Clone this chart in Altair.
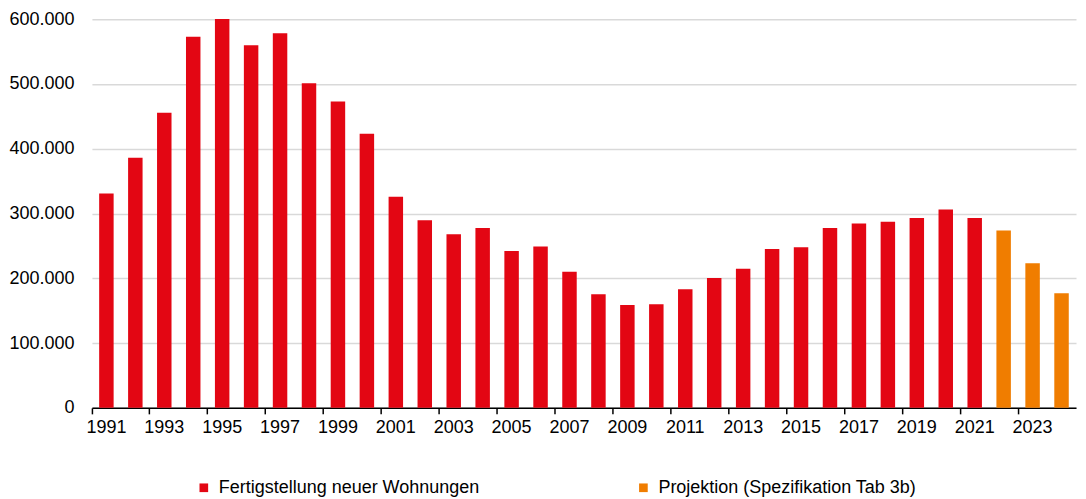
import altair as alt
import pandas as pd

years = list(range(1991, 2025))
values = [331000, 386000, 455500, 573000, 600500, 560000, 578500, 501000, 473000, 423000,
          326000, 289500, 268000, 277600, 242200, 249300, 210300, 175300, 158900, 159900,
          183000, 200500, 214900, 245200, 247800, 277600, 284800, 287400, 293000, 306400,
          293000, 274000, 223100, 176900]
series_names = ["Fertigstellung neuer Wohnungen", "Projektion (Spezifikation Tab 3b)"]
series = [series_names[0]] * 31 + [series_names[1]] * 3
colors = ["#E30613", "#F07D00"]
x_labels = list(range(1991, 2025, 2))
y_ticks = [0, 100000, 200000, 300000, 400000, 500000, 600000]

df = pd.DataFrame({"Jahr": years, "Wert": values, "Reihe": series})

FONT = "Liberation Sans"

chart = alt.Chart(df).mark_bar(width=alt.RelativeBandSize(0.5)).encode(
    x=alt.X("Jahr:O", title=None,
            scale=alt.Scale(paddingInner=0, paddingOuter=0),
            axis=alt.Axis(values=x_labels, labelAngle=0, bandPosition=0,
                          ticks=True, tickSize=6, tickWidth=1.5, tickColor="black",
                          domainColor="black", domainWidth=1.5,
                          labelFont=FONT, labelFontSize=18, labelColor="black",
                          labelPadding=5, grid=False)),
    y=alt.Y("Wert:Q", title=None,
            scale=alt.Scale(domain=[0, 600000], nice=False),
            axis=alt.Axis(values=y_ticks, ticks=False, tickSize=0, domain=False,
                          labelExpr="replace(format(datum.value, ',d'), ',', '.')",
                          labelFont=FONT, labelFontSize=18, labelColor="black",
                          labelPadding=18, grid=True, gridColor="#D9D9D9", gridWidth=1.5,
                          minExtent=83, maxExtent=83)),
    color=alt.Color("Reihe:N", title=None,
                    scale=alt.Scale(domain=series_names, range=colors),
                    legend=alt.Legend(orient="none", legendX=103, legendY=460,
                                      direction="horizontal", symbolType="square",
                                      symbolSize=75, symbolStrokeWidth=0,
                                      labelFont=FONT, labelFontSize=18, labelColor="black",
                                      labelOffset=6, columnPadding=155, labelLimit=400)),
).properties(
    width=985, height=389, padding={"left": 0, "top": 2, "right": 2, "bottom": 0}
).configure_view(stroke=None)

chart.save("out.html", embed_options={"renderer": "svg", "actions": False})
